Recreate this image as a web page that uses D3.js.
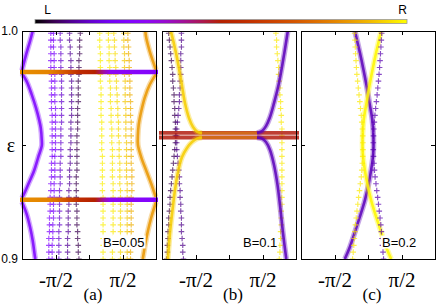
<!DOCTYPE html>
<html>
<head>
<meta charset="utf-8">
<script src="https://cdn.jsdelivr.net/npm/d3@7"></script>
<style>
body { margin: 0; background: #fff; }
svg { display: block; }
</style>
</head>
<body>
<svg width="436" height="304"></svg>
<script>
// ---- data (k in units of pi, energy eps, c = L/R weight 0..1) ----
var panelNames = ["(a)", "(b)", "(c)"];
var fieldLabels = ["B=0.05", "B=0.1", "B=0.2"];
var barLabels = ["L", "R"];
var xTickValues = [-0.5, 0, 0.5];
var xTickLabels = ["-π/2", "", "π/2"];
var yTickValues = [0.9, 0.95, 1.0];
var yTickLabels = ["0.9", "", "1.0"];

// energies at which the dotted branches are sampled
var epsRows = [0.999, 0.996, 0.993, 0.990, 0.987, 0.984, 0.981, 0.978, 0.975, 0.972, 0.969, 0.966,
    0.963, 0.960, 0.957, 0.954, 0.951, 0.948, 0.945, 0.942, 0.939, 0.936, 0.933, 0.930, 0.927,
    0.924, 0.921, 0.918, 0.915, 0.912, 0.909, 0.906, 0.903, 0.900];

// (a) B=0.05
var aRowBranches = [
    {c: 0.25, k: [-0.57,-0.57,-0.57,-0.57,-0.57,-0.57,-0.56,-0.56,-0.56,-0.56,-0.56,-0.56,-0.55,-0.55,-0.55,-0.55,-0.55,-0.55,-0.55,-0.56,-0.56,-0.56,-0.57,-0.57,-0.58,-0.58,-0.58,-0.59,-0.59,-0.59,-0.60,-0.60,-0.60,-0.60]},
    {c: 0.22, k: [-0.53,-0.53,-0.53,-0.52,-0.52,-0.52,-0.51,-0.51,-0.51,-0.51,-0.51,-0.50,-0.50,-0.50,-0.50,-0.50,-0.50,-0.50,-0.51,-0.51,-0.51,-0.51,-0.52,-0.52,-0.52,-0.53,-0.53,-0.53,-0.54,-0.54,-0.54,-0.55,-0.55,-0.55]},
    {c: 0.15, k: [-0.43,-0.43,-0.42,-0.42,-0.42,-0.42,-0.41,-0.41,-0.41,-0.41,-0.41,-0.41,-0.41,-0.41,-0.42,-0.42,-0.42,-0.42,-0.42,-0.43,-0.43,-0.43,-0.43,-0.44,-0.44,-0.44,-0.44,-0.44,-0.44,-0.45,-0.45,-0.45,-0.45,-0.45]},
    {c: 0.10, k: [-0.29,-0.29,-0.28,-0.28,-0.27,-0.27,-0.27,-0.26,-0.26,-0.26,-0.26,-0.26,-0.26,-0.27,-0.27,-0.27,-0.27,-0.28,-0.28,-0.28,-0.29,-0.29,-0.29,-0.30,-0.30,-0.30,-0.31,-0.31,-0.31,-0.31,-0.32,-0.32,-0.32,-0.32]},
    {c: 0.05, k: [-0.13,-0.14,-0.14,-0.14,-0.15,-0.15,-0.15,-0.16,-0.16,-0.16,-0.16,-0.17,-0.17,-0.17,-0.17,-0.18,-0.18,-0.18,-0.18,-0.18,-0.18,-0.19,-0.19,-0.19,-0.19,-0.19,-0.18,-0.18,-0.18,-0.17,-0.17,-0.16,-0.16,-0.15]},
    {c: 0.98, k: [0.16,0.16,0.16,0.17,0.17,0.17,0.17,0.17,0.18,0.18,0.18,0.18,0.18,0.19,0.19,0.19,0.19,0.19,0.20,0.20,0.20,0.20,0.20,0.20,0.21,0.21,0.21,0.21,0.21,0.21,0.21,0.21,0.21,0.21]},
    {c: 0.97, k: [0.29,0.29,0.30,0.30,0.30,0.31,0.31,0.31,0.32,0.32,0.32,0.33,0.33,0.33,0.34,0.34,0.34,0.35,0.35,0.35,0.35,0.35,0.36,0.36,0.36,0.36,0.36,0.36,0.36,0.36,0.35,0.35,0.35,0.35]},
    {c: 0.95, k: [0.37,0.38,0.38,0.39,0.39,0.40,0.40,0.41,0.41,0.42,0.42,0.43,0.43,0.44,0.44,0.44,0.45,0.45,0.45,0.46,0.46,0.46,0.46,0.47,0.47,0.47,0.47,0.47,0.47,0.47,0.47,0.47,0.47,0.47]},
    {c: 0.92, k: [0.52,0.52,0.52,0.53,0.53,0.53,0.53,0.54,0.54,0.54,0.54,0.55,0.55,0.55,0.55,0.55,0.56,0.56,0.56,0.56,0.56,0.56,0.57,0.57,0.57,0.57,0.57,0.57,0.57,0.57,0.57,0.57,0.57,0.57]},
    {c: 0.88, k: [0.58,0.58,0.59,0.59,0.60,0.60,0.60,0.61,0.61,0.61,0.62,0.62,0.62,0.63,0.63,0.63,0.63,0.63,0.63,0.63,0.64,0.64,0.64,0.64,0.63,0.63,0.63,0.63,0.63,0.63,0.62,0.62,0.62,0.62]}
];
var aLobes = [
    {c: 0.24, pts: [[-0.84,1.0],[-0.88,0.9956],[-0.94,0.9895],[-0.98,0.9851],[-1.0,0.9827]]},
    {c: 0.24, pts: [[-1.0,0.9814],[-0.93,0.9779],[-0.855,0.9721],[-0.79,0.9662],[-0.74,0.9605],[-0.72,0.9575],[-0.705,0.9522],[-0.705,0.9496],[-0.757,0.9447],[-0.82,0.9387],[-0.905,0.9329],[-0.97,0.9285],[-1.0,0.9268]]},
    {c: 0.24, pts: [[-1.0,0.925],[-0.93,0.9197],[-0.88,0.914],[-0.84,0.908],[-0.806,0.9009],[-0.80,0.9]]},
    {c: 0.84, pts: [[0.84,1.0],[0.855,0.9969],[0.906,0.9911],[0.955,0.9867],[1.0,0.9829]]},
    {c: 0.84, pts: [[1.0,0.9811],[0.906,0.9764],[0.83,0.9706],[0.78,0.9648],[0.742,0.9589],[0.73,0.9545],[0.73,0.9501],[0.78,0.9446],[0.855,0.9387],[0.93,0.9329],[0.996,0.9271]]},
    {c: 0.84, pts: [[1.0,0.925],[0.93,0.9183],[0.88,0.9124],[0.84,0.9066],[0.806,0.9007],[0.80,0.9]]}
];
var aBandEps = [0.982, 0.926];
var aBandK = [-1.0, -0.58, -0.36, -0.13, 0.09, 0.21, 0.31, 1.0];
var aBandC = [0.82, 0.80, 0.70, 0.55, 0.50, 0.40, 0.30, 0.26];

// (b) B=0.1
var bRowBranches = [
    {c: 0.05, k: [-0.90,-0.89,-0.88,-0.87,-0.86,-0.85,-0.84,-0.84,-0.83,-0.82,-0.82,-0.81,-0.81,-0.80,-0.80,-0.80,-0.80,-0.81,-0.82,-0.83,-0.84,-0.85,-0.86,-0.87,-0.88,-0.88,-0.89,-0.90,-0.90,-0.91,-0.91,-0.92,-0.92,-0.93]},
    {c: 0.09, k: [-0.71,-0.71,-0.71,-0.72,-0.72,-0.72,-0.72,-0.73,-0.73,-0.74,-0.74,-0.75,-0.76,-0.77,-0.78,-0.78,-0.78,-0.78,-0.77,-0.76,-0.75,-0.74,-0.74,-0.73,-0.73,-0.72,-0.72,-0.71,-0.71,-0.71,-0.70,-0.69,-0.69,-0.68]},
    {c: 0.97, k: [0.70,0.71,0.71,0.72,0.73,0.74,0.74,0.75,0.76,0.76,0.77,0.77,0.78,0.78,0.79,0.79,0.79,0.79,0.79,0.79,0.79,0.79,0.79,0.79,0.79,0.79,0.78,0.78,0.78,0.77,0.77,0.76,0.76,0.75]}
];
var bCurves = [
    {c: 0.93, pts: [[-0.866,0.9997],[-0.791,0.9904],[-0.716,0.9785],[-0.657,0.9684],[-0.597,0.9618],[-0.537,0.9579],[-0.478,0.9559],[-0.403,0.9553]]},
    {c: 0.13, pts: [[0.876,0.9997],[0.825,0.9902],[0.746,0.9772],[0.672,0.9684],[0.612,0.9623],[0.552,0.9583],[0.493,0.9561],[0.418,0.9553]]},
    {c: 0.93, pts: [[-0.403,0.9533],[-0.478,0.9528],[-0.552,0.9513],[-0.627,0.9487],[-0.701,0.9447],[-0.761,0.9382],[-0.806,0.9303],[-0.843,0.9215],[-0.881,0.9114],[-0.910,0.9009],[-0.913,0.9]]},
    {c: 0.13, pts: [[0.418,0.9533],[0.493,0.9528],[0.552,0.9513],[0.612,0.9478],[0.672,0.9412],[0.724,0.9325],[0.769,0.9215],[0.806,0.9114],[0.851,0.9009],[0.855,0.9]]}
];
var bBandEps = [0.9553, 0.9533];
var bBandC = 0.49;
var bFlatK = [-0.45, 0.42];
var bFlatC = 0.85;

// (c) B=0.2
var cRowBranches = [
    {c: 0.97, k: [-0.200,-0.194,-0.190,-0.185,-0.179,-0.173,-0.166,-0.155,-0.145,-0.134,-0.122,-0.112,-0.101,-0.093,-0.084,-0.079,-0.076,-0.075,-0.079,-0.085,-0.093,-0.100,-0.115,-0.127,-0.140,-0.152,-0.164,-0.176,-0.187,-0.196,-0.204,-0.212,-0.221,-0.230]},
    {c: 0.12, k: [0.205,0.199,0.193,0.186,0.180,0.173,0.165,0.156,0.146,0.136,0.125,0.114,0.104,0.095,0.087,0.082,0.079,0.078,0.082,0.089,0.097,0.106,0.119,0.131,0.144,0.156,0.168,0.180,0.191,0.200,0.208,0.216,0.224,0.232]}
];
var cCurves = [
    {c: 0.13, pts: [[-0.194,0.9997],[-0.119,0.9902],[-0.067,0.9829],[-0.019,0.9756],[0.022,0.9684],[0.064,0.961],[0.081,0.9535],[0.079,0.9465],[0.03,0.9361],[-0.045,0.9259],[-0.169,0.9142],[-0.269,0.9054],[-0.346,0.9]]},
    {c: 0.99, pts: [[0.194,0.9997],[0.119,0.9902],[0.067,0.9829],[0.019,0.9756],[-0.022,0.9684],[-0.064,0.961],[-0.081,0.9535],[-0.079,0.9465],[-0.03,0.9361],[0.045,0.9259],[0.169,0.9142],[0.269,0.9054],[0.346,0.9]]}
];

// ---- drawing ----
var svg = d3.select("svg");
var plotTop = 31, plotH = 228, plotW = 134;
var lefts = [22, 162, 301];
var serif = "'Liberation Serif', 'Times New Roman', serif",
    sans = "'Liberation Sans', Arial, sans-serif";

// gnuplot default palette (rgbformulae 7,5,15)
function palette(t) {
    var r = Math.sqrt(t), g = t * t * t, b = Math.max(0, Math.sin(2 * Math.PI * t));
    return d3.rgb(255 * r, 255 * g, 255 * b).formatHex();
}

var y = d3.scaleLinear().domain([0.9, 1.0]).range([plotTop + plotH, plotTop]);
var defs = svg.append("defs");

// colour bar
var cb = d3.scaleLinear().domain([0, 1]).range([35, 407]);
defs.append("linearGradient").attr("id", "cbar")
    .selectAll("stop").data(d3.range(0, 1.0001, 0.05)).enter().append("stop")
    .attr("offset", function (d) { return d; })
    .attr("stop-color", palette);
svg.append("rect").attr("x", cb(0)).attr("y", 19.5).attr("width", cb(1) - cb(0)).attr("height", 4)
    .attr("fill", "url(#cbar)").attr("stroke", "#999").attr("stroke-width", 0.8);
svg.selectAll(".cbl").data(barLabels).enter().append("text")
    .attr("x", function (d, i) { return cb(i ? 0.988 : 0.034); })
    .attr("y", 13.5).attr("text-anchor", "middle")
    .attr("font-family", sans).attr("font-size", 12)
    .text(function (d) { return d; });

function makePanel(i) {
    var x = d3.scaleLinear().domain([-1, 1]).range([lefts[i], lefts[i] + plotW]);
    var g = svg.append("g");
    defs.append("clipPath").attr("id", "clip" + i).append("rect")
        .attr("x", lefts[i] - 3).attr("y", plotTop).attr("width", plotW + 6).attr("height", plotH);
    var marks = g.append("g").attr("clip-path", "url(#clip" + i + ")");
    return {i: i, x: x, g: g, marks: marks};
}

function drawRows(p, branches) {
    branches.forEach(function (b) {
        p.marks.append("g").selectAll("path").data(b.k).enter().append("path")
            .attr("d", "M-2.8,0H2.8M0,-2.8V2.8")
            .attr("transform", function (k, j) { return "translate(" + p.x(k) + "," + y(epsRows[j]) + ")"; })
            .attr("stroke", palette(b.c)).attr("stroke-width", 1.15).attr("opacity", 0.7);
    });
}

function drawCurves(p, curves) {
    var line = d3.line()
        .x(function (d) { return p.x(d[0]); })
        .y(function (d) { return y(d[1]); })
        .curve(d3.curveCatmullRom);
    var sel = p.marks.append("g").attr("fill", "none")
        .selectAll("g").data(curves).enter().append("g");
    sel.append("path").attr("d", function (d) { return line(d.pts); })
        .attr("stroke", function (d) { return palette(d.c); })
        .attr("stroke-width", 5.5).attr("opacity", 0.35);
    sel.append("path").attr("d", function (d) { return line(d.pts); })
        .attr("stroke", function (d) { return palette(d.c); })
        .attr("stroke-width", 2.6).attr("opacity", 0.85);
}

function drawFrame(p) {
    var g = p.g, x = p.x, l = lefts[p.i];
    var bottom = g.append("g").attr("transform", "translate(0," + (plotTop + plotH) + ")")
        .call(d3.axisBottom(x).tickValues(xTickValues).tickSize(-4).tickPadding(13)
            .tickFormat(function (d, i) { return xTickLabels[i]; }));
    bottom.attr("font-family", serif).attr("font-size", 21);
    var topAx = g.append("g").attr("transform", "translate(0," + plotTop + ")")
        .call(d3.axisTop(x).tickValues(xTickValues).tickSize(-4).tickFormat(""));
    var left = g.append("g").attr("transform", "translate(" + l + ",0)")
        .call(d3.axisLeft(y).tickValues(yTickValues).tickSize(-4).tickPadding(4)
            .tickFormat(function (d, i) { return p.i === 0 ? yTickLabels[i] : ""; }));
    left.attr("font-family", sans).attr("font-size", 12);
    var right = g.append("g").attr("transform", "translate(" + (l + plotW) + ",0)")
        .call(d3.axisRight(y).tickValues(yTickValues).tickSize(-4).tickFormat(""));
    [bottom, topAx, left, right].forEach(function (a) {
        a.select(".domain").remove();
        a.selectAll("line").attr("shape-rendering", "crispEdges");
    });
    g.append("rect").attr("x", l).attr("y", plotTop).attr("width", plotW).attr("height", plotH)
        .attr("fill", "none").attr("stroke", "#000").attr("shape-rendering", "crispEdges");

    var t = g.append("text").attr("x", l + 81).attr("y", 246.5)
        .attr("font-family", sans).attr("font-size", 13).text(fieldLabels[p.i]);
    var bb = t.node().getBBox();
    g.insert("rect", function () { return t.node(); })
        .attr("x", bb.x - 1).attr("y", bb.y + 1).attr("width", bb.width + 2).attr("height", bb.height - 2)
        .attr("fill", "#fff");

    g.append("text").attr("x", l + plotW / 2 + 4).attr("y", 299.5).attr("text-anchor", "middle")
        .attr("font-family", serif).attr("font-size", 17).text(panelNames[p.i]);
}

// panel (a)
var pa = makePanel(0);
drawRows(pa, aRowBranches);
drawCurves(pa, aLobes);
var gradA = defs.append("linearGradient").attr("id", "bandA").attr("gradientUnits", "userSpaceOnUse")
    .attr("x1", pa.x(-1)).attr("x2", pa.x(1)).attr("y1", 0).attr("y2", 0);
gradA.selectAll("stop").data(aBandK).enter().append("stop")
    .attr("offset", function (k) { return (k + 1) / 2; })
    .attr("stop-color", function (k, i) { return palette(aBandC[i]); });
pa.marks.append("g").selectAll("line").data(aBandEps).enter().append("line")
    .attr("x1", pa.x(-1) - 2).attr("x2", pa.x(1) + 2)
    .attr("y1", function (d) { return y(d); }).attr("y2", function (d) { return y(d); })
    .attr("stroke", "url(#bandA)").attr("stroke-width", 4.5);
drawFrame(pa);
svg.append("text").attr("x", 11).attr("y", 152).attr("text-anchor", "middle")
    .attr("font-family", serif).attr("font-size", 20).text("ε");

// panel (b)
var pb = makePanel(1);
drawRows(pb, bRowBranches);
pb.marks.append("g").selectAll("line").data(bBandEps).enter().append("line")
    .attr("x1", pb.x(-1) - 3).attr("x2", pb.x(1) + 3)
    .attr("y1", function (d) { return y(d); }).attr("y2", function (d) { return y(d); })
    .attr("stroke", palette(bBandC)).attr("stroke-width", 3.8).attr("opacity", 0.85);
pb.marks.append("g").selectAll("line").data(bBandEps).enter().append("line")
    .attr("x1", pb.x(bFlatK[0])).attr("x2", pb.x(bFlatK[1]))
    .attr("y1", function (d) { return y(d); }).attr("y2", function (d) { return y(d); })
    .attr("stroke", palette(bFlatC)).attr("stroke-width", 3).attr("opacity", 0.45);
drawCurves(pb, bCurves);
drawFrame(pb);

// panel (c)
var pc = makePanel(2);
drawCurves(pc, cCurves);
drawRows(pc, cRowBranches);
drawFrame(pc);
</script>
</body>
</html>
